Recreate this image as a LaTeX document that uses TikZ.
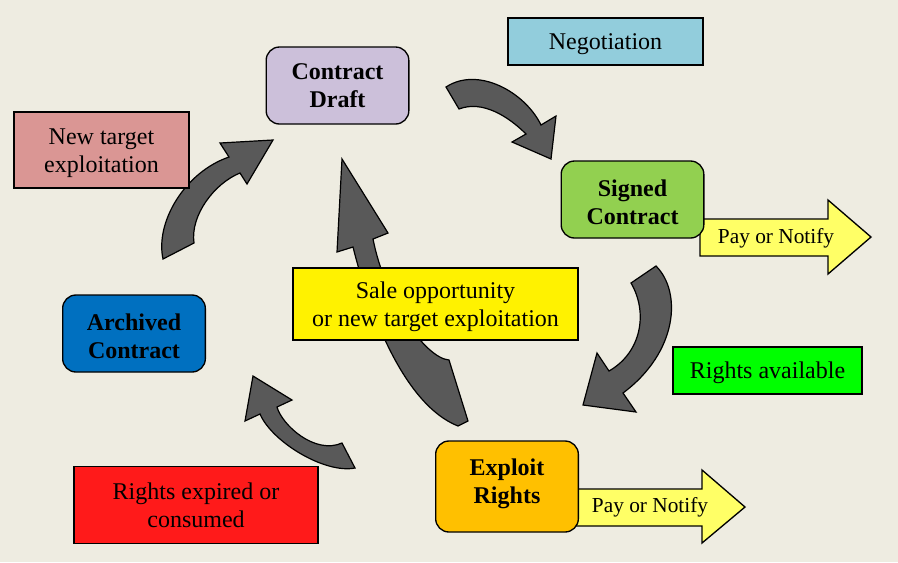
\documentclass[tikz,border=0pt]{standalone}
\usepackage{fontspec}
\setmainfont{Liberation Serif}
\usepackage{xcolor}
\definecolor{bgtan}{HTML}{EEECE1}
\definecolor{draftlilac}{HTML}{CCC0DA}
\definecolor{negoblue}{HTML}{92CDDC}
\definecolor{targetrose}{HTML}{DA9694}
\definecolor{signedgreen}{HTML}{92D050}
\definecolor{archiveblue}{HTML}{0070C0}
\definecolor{availgreen}{HTML}{00FF00}
\definecolor{exploitorange}{HTML}{FFC000}
\definecolor{expiredred}{HTML}{FF1A1A}
\definecolor{payyellow}{HTML}{FFFF66}
\definecolor{arrowgray}{HTML}{595959}
\newcommand\topstrut{\rule{0pt}{16.5pt}}
\newcommand\botstrut{\rule[-8.5pt]{0pt}{8.5pt}}

\begin{document}
\begin{tikzpicture}[x=0.75pt, y=-0.75pt,
    stage/.style={rectangle, rounded corners=10pt, draw, line width=1pt, align=center, inner sep=0pt, minimum width=107pt, minimum height=57.75pt, font=\fontsize{18}{21}\selectfont\bfseries},
    tag/.style={rectangle, draw, line width=1pt, align=center, inner sep=0pt, minimum height=35.25pt, font=\fontsize{18}{21}\selectfont},
    blockarrow/.style={draw, line width=0.9pt, fill=arrowgray},
    paybody/.style={draw, line width=1pt, fill=payyellow},
    paytext/.style={font=\fontsize{16}{19}\selectfont, inner sep=0pt}
]
    \useasboundingbox (0,0) rectangle (898,562);
    \fill[bgtan] (0,0) rectangle (898,562);

    % curved block arrows
    \draw[blockarrow] (446,87) .. controls (478,66) and (525,92) .. (541,125) -- (556,116) -- (551,159) -- (512,142) -- (526,134) .. controls (508,116) and (482,100) .. (459,109) -- cycle;
    \draw[blockarrow] (656,266) .. controls (682,292) and (678,352) .. (623,393) -- (636,412) -- (583,405) -- (597,353) -- (609,371) .. controls (642,352) and (648,312) .. (631,283) -- cycle;
    \draw[blockarrow] (355,468) .. controls (325,474) and (272,442) .. (260,414) -- (245,421) -- (253,376) -- (292,400) -- (277,407) .. controls (282,425) and (315,455) .. (342,443) -- cycle;
    \draw[blockarrow] (163,259) .. controls (155,222) and (185,172) .. (229,157) -- (220,143) -- (273,140) -- (247,184) -- (240,173) .. controls (215,183) and (190,215) .. (194,243) -- cycle;
    \draw[blockarrow] (342,159) -- (388,233) -- (373,239) .. controls (385,300) and (425,358) .. (449,360) -- (468,421) -- (458,426) .. controls (405,405) and (370,315) .. (353,247) -- (337,252) -- cycle;

    % pay or notify arrows
    \draw[paybody] (700,219) -- (828,219) -- (828,200) -- (871,237) -- (828,274) -- (828,256) -- (700,256) -- cycle;
    \draw[paybody] (574,489) -- (702,489) -- (702,470) -- (745,507) -- (702,543) -- (702,526) -- (574,526) -- cycle;
    \node[paytext] (pay1) at (776,238) {Pay or Notify};
    \node[paytext] (pay2) at (650,507) {Pay or Notify};

    \node[stage, fill=draftlilac] (draft) at (337.5,85.5) {Contract\\Draft};
    \node[stage, fill=signedgreen] (signed) at (632.5,199.5) {\topstrut Signed\\Contract};
    \node[stage, fill=archiveblue] (archived) at (134,333.5) {\topstrut Archived\\Contract};
    \node[stage, fill=exploitorange, minimum height=68.25pt] (exploit) at (507,486.5) {Exploit\\Rights\botstrut};

    \node[tag, fill=negoblue, minimum width=146.25pt] (nego) at (605.5,41.5) {\topstrut Negotiation};
    \node[tag, fill=targetrose, minimum width=131.25pt, minimum height=57pt] (newtarget) at (101.5,150) {\topstrut New target\\exploitation};
    \node[tag, fill=yellow, minimum width=213.75pt, minimum height=54pt] (sale) at (435.5,304) {\topstrut Sale opportunity\\or new target exploitation};
    \node[tag, fill=availgreen, minimum width=141.75pt] (avail) at (767.5,370.5) {\topstrut Rights available};
    \node[tag, fill=expiredred, minimum width=183pt, minimum height=57.75pt] (expired) at (196,505) {Rights expired or\\consumed};
\end{tikzpicture}
\end{document}
